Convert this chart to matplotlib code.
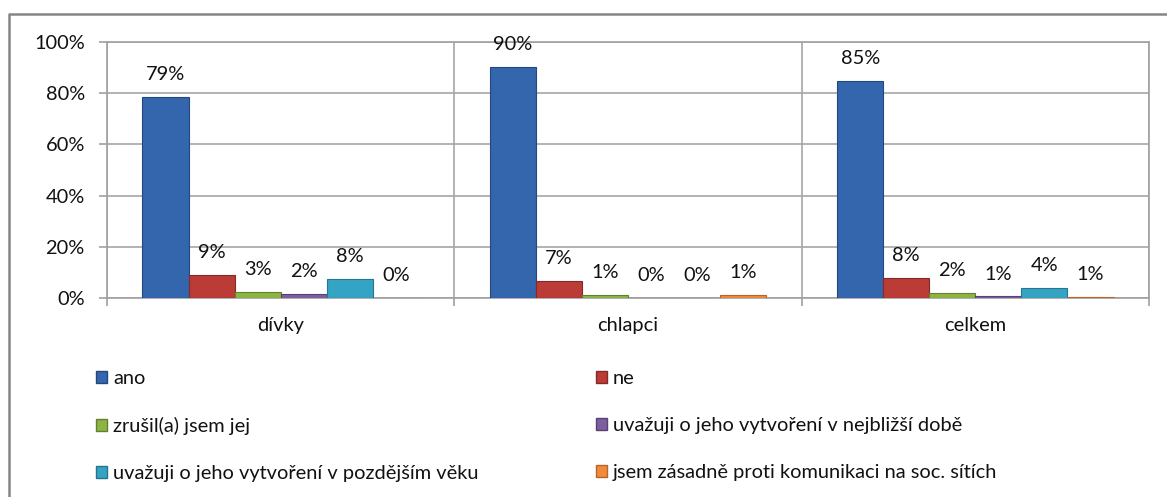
"""Grouped bar chart: profile on social networks (dívky / chlapci / celkem)."""

import matplotlib

matplotlib.use("Agg")
import matplotlib.pyplot as plt
from matplotlib.lines import Line2D
from matplotlib.patches import Patch
import numpy as np

plt.rcParams["font.family"] = ["Lato", "DejaVu Sans"]

GROUPS = ["dívky", "chlapci", "celkem"]
ANSWERS = [
    "ano",
    "ne",
    "zrušil(a) jsem jej",
    "uvažuji o jeho vytvoření v nejbližší době",
    "uvažuji o jeho vytvoření v pozdějším věku",
    "jsem zásadně proti komunikaci na soc. sítích",
]
# bar heights (%), labels as printed
ANO = [78.5, 90.3, 84.9]
NE = [9.0, 6.8, 7.8]
ZRUSIL = [2.5, 1.2, 2.1]
BLIZKA = [1.5, 0.0, 0.6]
POZDEJI = [7.5, 0.0, 3.9]
PROTI = [0.0, 1.2, 0.5]
LABELS = [
    ["79%", "90%", "85%"],
    ["9%", "7%", "8%"],
    ["3%", "1%", "2%"],
    ["2%", "0%", "1%"],
    ["8%", "0%", "4%"],
    ["0%", "1%", "1%"],
]
COLORS = ["#3466ae", "#bb3b37", "#8db443", "#7d5fa0", "#35a4c4", "#f08a3c"]
EDGES = ["#24487d", "#862a27", "#62802d", "#574272", "#237590", "#b8652a"]
FS = 14.4
INK = "#111111"

W, H = 1167, 497
fig = plt.figure(figsize=(W / 100, H / 100), dpi=100)
fig.patch.set_facecolor("white")
ax = fig.add_axes([107 / W, 1 - 298 / H, (1149 - 107) / W, (298 - 42) / H])

series = [ANO, NE, ZRUSIL, BLIZKA, POZDEJI, PROTI]
x = np.arange(len(GROUPS))
bw = 0.1326
for i, vals in enumerate(series):
    pos = x + (i - 2.5) * bw
    bars = ax.bar(pos, vals, bw, color=COLORS[i], edgecolor=EDGES[i],
                  linewidth=0.8, zorder=3, label=ANSWERS[i])
    for b, txt in zip(bars, LABELS[i]):
        ax.annotate(txt, (b.get_x() + b.get_width() / 2, b.get_height()),
                    xytext=(0, 12), textcoords="offset points",
                    ha="center", va="baseline", fontsize=FS, color=INK)

ax.set_xlim(-0.5, 2.5)
ax.set_ylim(0, 100)
ax.set_yticks(range(0, 101, 20))
ax.set_yticklabels([f"{v}%" for v in range(0, 101, 20)])
ax.set_xticks(x)
ax.set_xticklabels(GROUPS)
ax.set_xticks([-0.5, 0.5, 1.5, 2.5], minor=True)
ax.tick_params(axis="x", which="major", length=0, pad=14, labelsize=FS,
               labelcolor=INK)
ax.tick_params(axis="x", which="minor", length=6, color="#a0a0a0", width=1.2)
ax.tick_params(axis="y", length=6, color="#a0a0a0", width=1.2, pad=10,
               labelsize=FS, labelcolor=INK)
ax.grid(axis="y", color="#a6a6a6", linewidth=1.2, zorder=0)
ax.grid(axis="x", which="minor", color="#a6a6a6", linewidth=1.2, zorder=0)
for side in ["left", "bottom", "right", "top"]:
    ax.spines[side].set_color("#a0a0a0")
    ax.spines[side].set_linewidth(1.2)

# legend in two columns, filled row by row
handles = [Patch(facecolor=COLORS[i], edgecolor=EDGES[i], label=ANSWERS[i])
           for i in range(len(ANSWERS))]
opts = dict(frameon=False, fontsize=FS, handlelength=0.55, handleheight=0.55,
            handletextpad=0.3, labelspacing=1.5, borderpad=0, borderaxespad=0,
            loc="upper left", bbox_transform=fig.transFigure)
leg1 = fig.legend(handles=handles[0::2], bbox_to_anchor=(96 / W, 1 - 370 / H), **opts)
leg2 = fig.legend(handles=handles[1::2], bbox_to_anchor=(596 / W, 1 - 370 / H), **opts)
for leg in (leg1, leg2):
    for t in leg.get_texts():
        t.set_color(INK)

# outer chart frame (only left and top edges are in view)
fig.add_artist(Line2D([9 / W, 9 / W, 1.0], [0.0, 1 - 14 / H, 1 - 14 / H],
                      transform=fig.transFigure, color="#858585", linewidth=1.8))

fig.savefig("out.png", dpi=100)
